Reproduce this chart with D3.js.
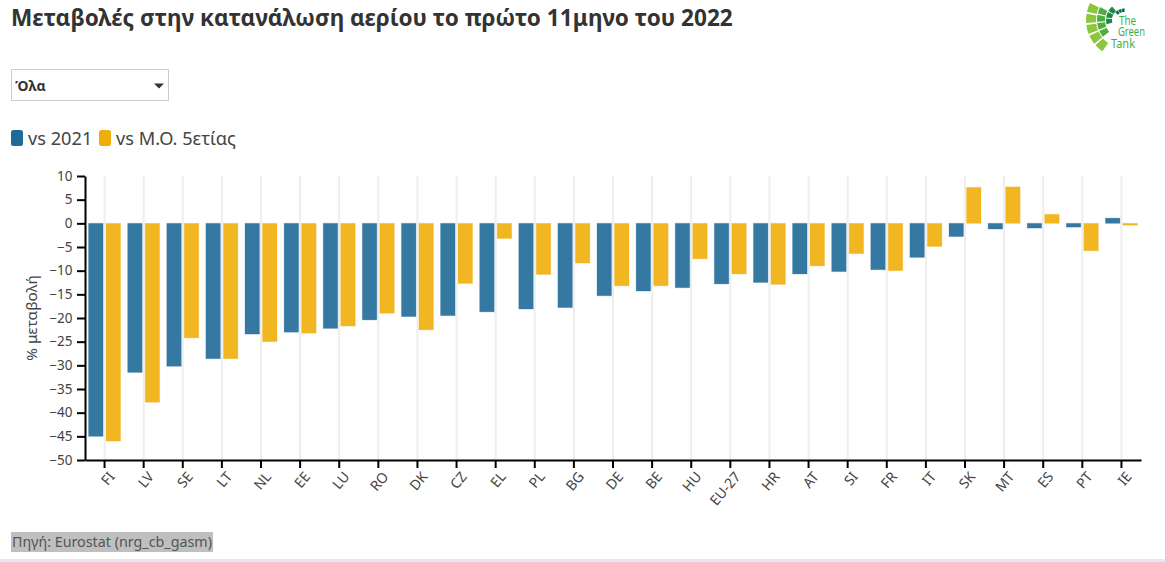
<!DOCTYPE html>
<html>
<head>
<meta charset="utf-8">
<script src="https://d3js.org/d3.v7.min.js"></script>
<style>
html, body { margin: 0; padding: 0; background: #fff; overflow: hidden; }
svg { display: block; font-family: "Noto Sans", sans-serif; }
</style>
</head>
<body>
<svg id="chart" width="1165" height="562"></svg>
<script>
// Chart data
const countries = ["FI", "LV", "SE", "LT", "NL", "EE", "LU", "RO", "DK", "CZ", "EL", "PL", "BG", "DE", "BE", "HU", "EU-27", "HR", "AT", "SI", "FR", "IT", "SK", "MT", "ES", "PT", "IE"];
const vs2021 = [-45, -31.5, -30.2, -28.6, -23.4, -23, -22.2, -20.4, -19.7, -19.5, -18.7, -18.1, -17.8, -15.3, -14.3, -13.6, -12.8, -12.5, -10.7, -10.2, -9.8, -7.2, -2.8, -1.2, -1, -0.8, 1.1];
const vs5yr = [-46, -37.8, -24.2, -28.6, -25, -23.2, -21.7, -19, -22.5, -12.7, -3.2, -10.8, -8.4, -13.2, -13.2, -7.5, -10.7, -12.9, -9, -6.4, -10, -4.9, 7.6, 7.7, 1.9, -5.8, -0.4];
const yTicks = [10, 5, 0, -5, -10, -15, -20, -25, -30, -35, -40, -45, -50];
const legendLabels = ["vs 2021", "vs Μ.Ο. 5ετίας"];
const seriesColors = ["#1f6a99", "#efae0a"];

const svg = d3.select("#chart");

// Scales
const x = d3.scaleBand().domain(countries).range([85, 1141]);
const y = d3.scaleLinear().domain([-50, 10]).range([460, 176]);
const barWidth = 14.5;

// Title
svg.append("text").attr("x", 11).attr("y", 26)
    .attr("font-size", 22.6).attr("font-weight", 700).attr("fill", "#333")
    .text("Μεταβολές στην κατανάλωση αερίου το πρώτο 11μηνο του 2022");

// Dropdown
svg.append("rect").attr("x", 11.5).attr("y", 69.5).attr("width", 157).attr("height", 31)
    .attr("fill", "#fff").attr("stroke", "#ccc");
svg.append("text").attr("x", 15).attr("y", 91)
    .attr("font-size", 14).attr("font-weight", 700).attr("fill", "#333").text("Όλα");
svg.append("path").attr("d", "M154,83.5h10l-5,5z").attr("fill", "#333");

// Legend
const legendX = [11, 99];
legendLabels.forEach((label, i) => {
    svg.append("rect").attr("x", legendX[i]).attr("y", 130).attr("width", 12).attr("height", 16)
        .attr("rx", 2.5).attr("fill", seriesColors[i]);
    svg.append("text").attr("x", legendX[i] + 17).attr("y", 145)
        .attr("font-size", 18.2).attr("fill", "#444").text(label);
});

// Vertical grid lines
svg.append("g").selectAll("line").data(countries).join("line")
    .attr("x1", d => x(d) + x.bandwidth() / 2)
    .attr("x2", d => x(d) + x.bandwidth() / 2)
    .attr("y1", 176).attr("y2", 460)
    .attr("stroke", "#eee").attr("stroke-width", 2);

// Bars
function drawBars(values, color, offset) {
    svg.append("g").selectAll("rect").data(values).join("rect")
        .attr("x", (d, i) => x(countries[i]) + x.bandwidth() / 2 + offset)
        .attr("y", d => y(Math.max(d, 0)))
        .attr("width", barWidth)
        .attr("height", d => Math.abs(y(d) - y(0)))
        .attr("fill", color)
        .attr("fill-opacity", 0.9)
        .attr("stroke", color)
        .attr("stroke-opacity", 0.25);
}
drawBars(vs2021, seriesColors[0], -16);
drawBars(vs5yr, seriesColors[1], 1.5);

// Axes
const xAxis = svg.append("g").attr("transform", "translate(0,460)")
    .call(d3.axisBottom(x).tickSize(8).tickSizeOuter(0));
xAxis.selectAll("text")
    .attr("font-size", 14).attr("fill", "#444")
    .attr("text-anchor", "end")
    .attr("x", 0).attr("y", 0).attr("dy", 0)
    .attr("transform", "translate(11,17) rotate(-50)");

const yAxis = svg.append("g").attr("transform", "translate(85,0)")
    .call(d3.axisLeft(y).tickValues(yTicks).tickSize(8).tickPadding(4.5).tickSizeOuter(0));
yAxis.selectAll("text").attr("font-size", 13.5).attr("fill", "#444");

svg.selectAll(".domain, .tick line").attr("stroke", "#000").attr("stroke-width", 2);
svg.selectAll("g.tick text").attr("font-family", "Noto Sans");

svg.append("text").attr("transform", "translate(37,318) rotate(-90)")
    .attr("text-anchor", "middle").attr("font-size", 15.3).attr("fill", "#444")
    .text("% μεταβολή");

// Source
svg.append("rect").attr("x", 11).attr("y", 532).attr("width", 202).attr("height", 20).attr("fill", "#bfbfbf");
svg.append("text").attr("x", 12).attr("y", 547)
    .attr("font-size", 14.3).attr("fill", "#555").text("Πηγή: Eurostat (nrg_cb_gasm)");

// Bottom strip of the page
svg.append("rect").attr("x", 0).attr("y", 559).attr("width", 1165).attr("height", 3).attr("fill", "#dfe9f2");

// Logo tiles: rings of a fan, outer ones light and inner ones dark
const logo = svg.append("g").attr("transform", "translate(1124,20)");
const logoRings = [
    { inner: 28, outer: 38, from: -147, to: -62, tiles: 5, color: "#8cc63f" },
    { inner: 19, outer: 27, from: -130, to: -60, tiles: 4, color: "#4fae3f" },
    { inner: 12, outer: 18, from: -105, to: -40, tiles: 3, color: "#1f8a45" },
    { inner: 8, outer: 11.5, from: -50, to: 5, tiles: 3, color: "#0a6b3a" }
];
logoRings.forEach(ring => {
    const step = (ring.to - ring.from) / ring.tiles;
    d3.range(ring.tiles).forEach(k => {
        const start = (ring.from + k * step + 1.5) * Math.PI / 180;
        const end = (ring.from + (k + 1) * step - 1.5) * Math.PI / 180;
        logo.append("path")
            .attr("d", d3.arc().innerRadius(ring.inner).outerRadius(ring.outer).startAngle(start).endAngle(end)())
            .attr("fill", ring.color);
    });
});
// Logo words
const logoWords = ["The", "Green", "Tank"];
const logoWordX = [1119, 1118, 1111];
const logoWordY = [25, 36, 48];
const logoWordW = [17, 27, 24];
logoWords.forEach((word, i) => {
    svg.append("text").attr("x", logoWordX[i]).attr("y", logoWordY[i])
        .attr("font-size", 13).attr("fill", "#3fae49")
        .attr("textLength", logoWordW[i]).attr("lengthAdjust", "spacingAndGlyphs")
        .text(word);
});
</script>
</body>
</html>
